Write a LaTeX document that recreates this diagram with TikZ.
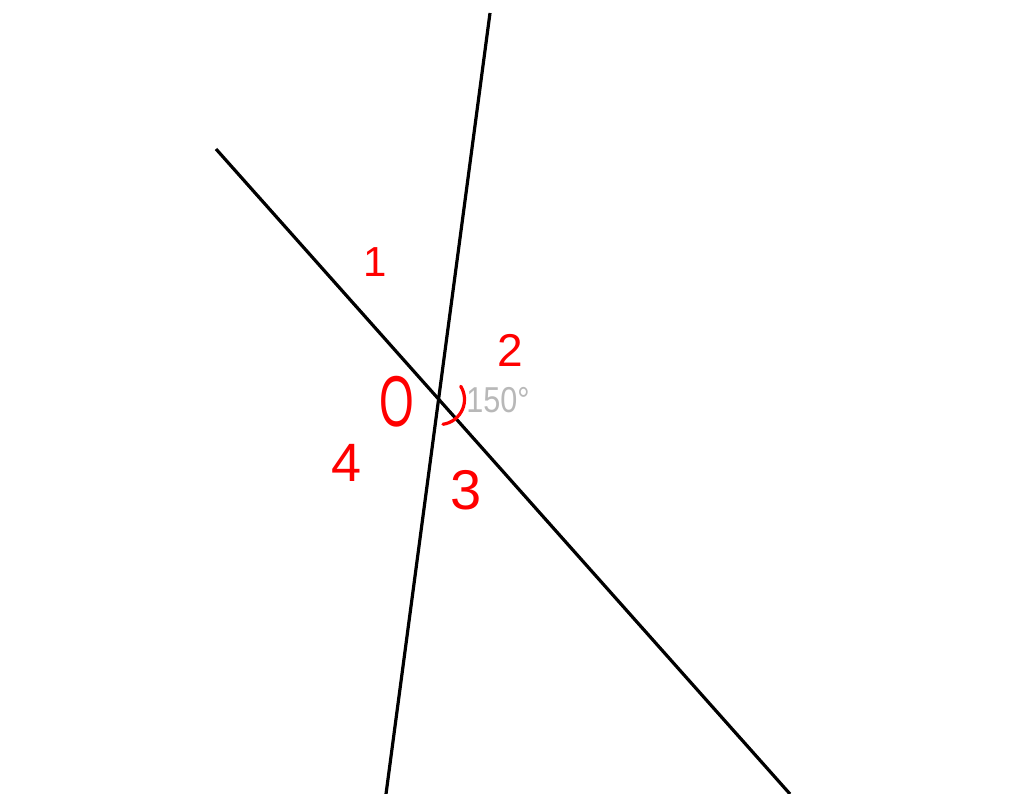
\documentclass[tikz,border=0pt]{standalone}
\usepackage{fontspec}
\setmainfont{Liberation Sans}
\begin{document}
\begin{tikzpicture}[x=1pt,y=-1pt,
  lineseg/.style={draw=black, line width=3.2pt},
  hand/.style={text=red, inner sep=0pt, anchor=center},
  deg/.style={text=black!28, inner sep=0pt, anchor=center}]
\useasboundingbox[fill=white] (0,0) rectangle (1024,794);
\coordinate (a1) at (216,149);
\coordinate (a2) at (790,794);
\coordinate (b1) at (490,13);
\coordinate (b2) at (386,794);
\coordinate (X) at (439.5,399.5);
\draw[lineseg] (a1) -- (a2);
\draw[lineseg] (b1) -- (b2);
\draw[red, line width=3.2pt, line cap=round] ([shift={(82:25)}]X) arc[start angle=82, end angle=-32, radius=25];
\node[hand, font=\fontsize{42}{42}\selectfont] (n1) at (375,262) {1};
\node[hand, font=\fontsize{46}{46}\selectfont] (n2) at (510,350) {2};
\node[hand, font=\fontsize{56}{56}\selectfont] (n3) at (466,490) {3};
\node[hand, font=\fontsize{54}{54}\selectfont] (n4) at (347,463) {4};
\node[hand, font=\fontsize{72}{72}\selectfont, xscale=0.62] (nO) at (397,402) {O};
\node[deg, font=\fontsize{36}{36}\selectfont, xscale=0.85] (t150) at (498,400) {150°};
\end{tikzpicture}
\end{document}
